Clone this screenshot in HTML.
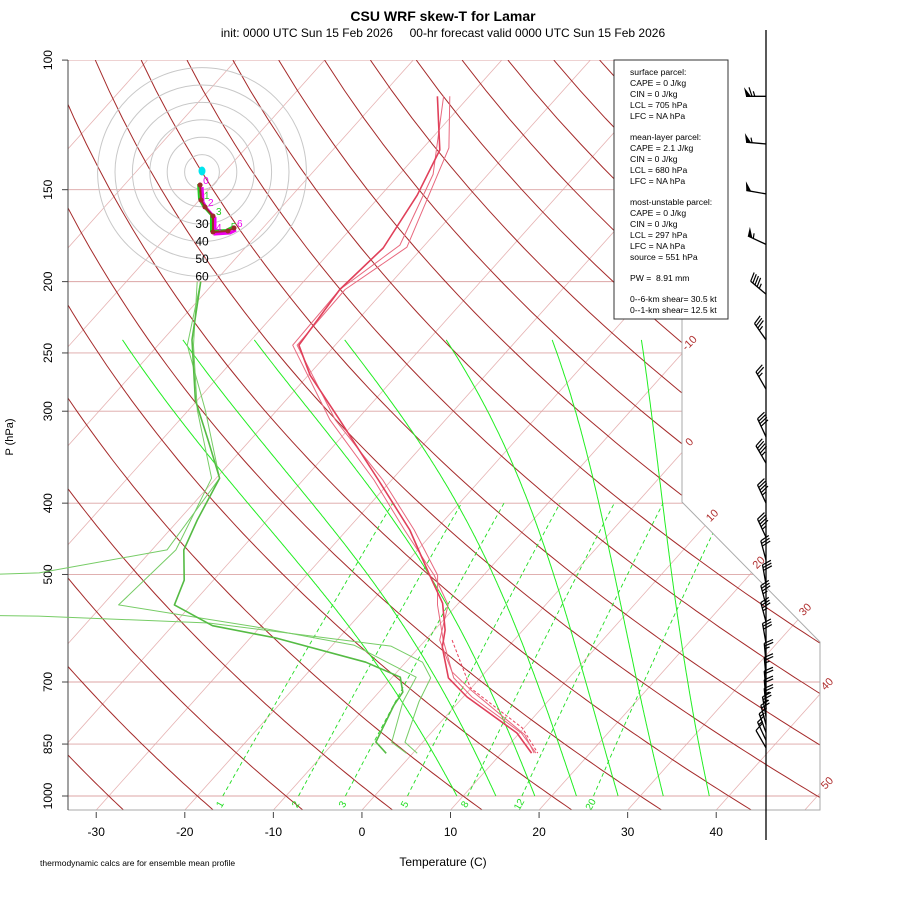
<!DOCTYPE html>
<html><head><meta charset="utf-8"><style>
body{margin:0;background:#fff;}
svg{display:block;font-family:"Liberation Sans",sans-serif;}
</style></head><body>
<svg id="chart" width="900" height="900" viewBox="0 0 900 900" xmlns="http://www.w3.org/2000/svg">
<defs><clipPath id="plotclip"><polygon points="68,60 682,60 682,502 820,642 820,810 68,810"/></clipPath></defs>
<rect x="0" y="0" width="900" height="900" fill="#fff"/>
<text x="443" y="21" font-size="14" font-weight="bold" text-anchor="middle">CSU WRF skew-T for Lamar</text>
<text x="443" y="37" font-size="12" text-anchor="middle" xml:space="preserve">init: 0000 UTC Sun 15 Feb 2026     00-hr forecast valid 0000 UTC Sun 15 Feb 2026</text>
<g id="bg" clip-path="url(#plotclip)"></g>
<g id="fg"></g>
<text transform="translate(13,437) rotate(-90)" font-size="11" text-anchor="middle">P (hPa)</text>
<text x="443" y="866" font-size="12" text-anchor="middle">Temperature (C)</text>
<text x="40" y="866" font-size="8.5">thermodynamic calcs are for ensemble mean profile</text>
<g>
<rect x="614" y="60" width="114" height="259" fill="#fff" stroke="#333" stroke-width="1"/>
<g font-size="8.6" fill="#000">
<text x="630" y="75">surface parcel:</text>
<text x="630" y="86">CAPE = 0 J/kg</text>
<text x="630" y="97">CIN = 0 J/kg</text>
<text x="630" y="108">LCL = 705 hPa</text>
<text x="630" y="119">LFC = NA hPa</text>
<text x="630" y="140">mean-layer parcel:</text>
<text x="630" y="151">CAPE = 2.1 J/kg</text>
<text x="630" y="162">CIN = 0 J/kg</text>
<text x="630" y="173">LCL = 680 hPa</text>
<text x="630" y="184">LFC = NA hPa</text>
<text x="630" y="205">most-unstable parcel:</text>
<text x="630" y="216">CAPE = 0 J/kg</text>
<text x="630" y="227">CIN = 0 J/kg</text>
<text x="630" y="238">LCL = 297 hPa</text>
<text x="630" y="249">LFC = NA hPa</text>
<text x="630" y="260">source = 551 hPa</text>
<text x="630" y="281" xml:space="preserve">PW =  8.91 mm</text>
<text x="630" y="302">0--6-km shear= 30.5 kt</text>
<text x="630" y="313">0--1-km shear= 12.5 kt</text>
</g></g>
</svg>
<script>
// ---- data ----
const tempP = [112,132.5,152.6,180,205,244,268,308.5,372,435,501,547,595,627.5,691,733.6,821,874.5];
const tempT = [-63.6,-57.9,-55.9,-54.4,-55.1,-54.1,-49.8,-41.9,-31.5,-22.9,-16.1,-11.8,-8.8,-7.4,-3.6,0.45,9.7,13.4];
const tempM1P = [112,143,178.4,205,244,308.5,372,435,501,550,614,678,717,826,874.5];
const tempM1T = [-62.9,-56.2,-52.8,-55.1,-54.8,-43.0,-32.0,-23.5,-15.6,-11.0,-8.4,-3.8,0.1,10.8,13.7];
const tempM2P = [112,131.6,179.6,205,244,308.5,372,435,501,550,614,691,733.6,821,874.5];
const tempM2T = [-62.2,-57.1,-51.8,-54.5,-54.3,-42.4,-31.0,-22.4,-15.2,-12.2,-8.0,-3.0,1.0,10.2,13.9];
const parcelP = [614,713,808,874.5];
const parcelT = [-7.0,-0.1,9.8,14.1];
const dewP = [200,240,290,328,370,421.6,463,509,550,587,610,658,689.5,722.5,752,844.5,875];
const dewT = [-71.6,-66.7,-60.2,-54.8,-49.6,-47.9,-46.4,-43.3,-41.9,-35.5,-27.1,-14.5,-9.1,-7.3,-7.0,-5.3,-3.0];
const dewM1P = [200,244,299,370,463,497.6,520,560,569.5,582,625.6,658,691,745,845,875];
const dewM1T = [-71.6,-66.7,-58.1,-49.6,-48.3,-60.4,-110,-110,-56.1,-36.2,-13.3,-8.1,-5.6,-4.5,-2.0,0.5];
const dewM2P = [200,244,299,370,463,550,589,624,660,689.5,745,845,875];
const dewM2T = [-72.0,-66.0,-59.0,-50.5,-47.3,-48.2,-30.6,-17.5,-11.8,-7.3,-6.3,-3.5,-0.7];
const windP = [112,130,152,178,208,240,280,325,353,400,445,478,516,550,580,620,660,690,720,740,760,780,800,820,840,860];
const windDir = [270,275,280,295,310,325,330,335,330,335,335,345,350,345,345,350,355,355,355,355,355,350,345,340,335,330];
const windSpd = [65,55,50,55,45,35,25,40,45,45,45,30,30,35,35,30,25,25,20,20,25,25,20,15,15,10];
const hodoU = [-1.1,-0.6,1.7,6.3,6.3,14.9,18.4];
const hodoV = [-7.5,-16.1,-20.1,-25.3,-34.5,-33.9,-32.2];
const pressureTicks = [100,150,200,250,300,400,500,700,850,1000];
const tempTicks = [-30,-20,-10,0,10,20,30,40];
const mixingRatios = [1,2,3,5,8,12,20];
const moistStartT = [9.3,13.7,18.1,22.8,27.5,32.6,37.8];
const isoLabels = [-10,0,10,20,30,40,50];

// ---- axes ----
const NS='http://www.w3.org/2000/svg';
function yP(p){return 796-319.6*Math.log(1000/p);}
function xT(T,p){return 362+8.857*T+0.895*(810-yP(p));}
const bg=document.getElementById('bg'), fg=document.getElementById('fg');
function mk(tag,attrs,parent){const e=document.createElementNS(NS,tag);for(const k in attrs)e.setAttribute(k,attrs[k]);parent.appendChild(e);return e;}
function poly(pts){return pts.map(q=>q[0].toFixed(1)+','+q[1].toFixed(1)).join(' ');}

for(let T=-140;T<=60;T+=10){
  const l=mk('line',{x1:xT(T,1050),y1:yP(1050),x2:xT(T,100),y2:yP(100),stroke:'#e6b3b3','stroke-width':0.8},bg);
  
  
}
pressureTicks.forEach(p=>{
  const l=mk('line',{x1:68,y1:yP(p),x2:820,y2:yP(p),stroke:'#dca4a4','stroke-width':0.9},bg);
  
  
});
for(let th=-40;th<=220;th+=10){
  const pts=[];
  for(let p=1050;p>=100;p-=10){const T=(th+273.15)*Math.pow(p/1000,0.286)-273.15;pts.push([xT(T,p),yP(p)]);}
  const l=mk('polyline',{points:poly(pts),fill:'none',stroke:'#a52a2a','stroke-width':1},bg);
  
  
}
function tdFromW(w,p){const e=w*p/(622+w);const a=Math.log(e/6.112);return 243.5*a/(17.67-a);}
mixingRatios.forEach(w=>{
  const pts=[];
  for(let p=1000;p>=400;p-=20)pts.push([xT(tdFromW(w,p),p),yP(p)]);
  const l=mk('polyline',{points:poly(pts),fill:'none',stroke:'#22dd22','stroke-width':0.9,'stroke-dasharray':'4,3'},bg);
  
  
  const x=xT(tdFromW(w,1000),1000), y=yP(1000)+10;
  const t=mk('text',{x:x,y:y,'font-size':10,fill:'#22dd22','text-anchor':'middle',transform:`rotate(-60 ${x} ${y})`},fg);
  t.textContent=w;
  
  
});
function es(Tc){return 6.112*Math.exp(17.67*Tc/(Tc+243.5));}
moistStartT.forEach(T0=>{
  let T=T0+273.15;const pts=[[xT(T0,1000),yP(1000)]];
  for(let p=1000;p>240;p-=2){
    const e=es(T-273.15), rs=0.622*e/(p-e);
    const dT=(287*T+2.5e6*rs)/(p*(1004+2.5e6*2.5e6*rs*0.622/(287*T*T)));
    T-=dT*2;
    const pn=p-2, Td=(T0+273.15)*Math.pow(pn/1000,0.286);
    const Tb=Td+0.8*(T-Td);
    pts.push([xT(Tb-273.15,pn),yP(pn)]);
  }
  const l=mk('polyline',{points:poly(pts),fill:'none',stroke:'#22ee22','stroke-width':1},bg);
  
  
});
const bnd=mk('polyline',{points:'682,60 682,502 820,642 820,810 68,810',fill:'none',stroke:'#aaa','stroke-width':1},fg);


const lax=mk('line',{x1:68,y1:60,x2:68,y2:810,stroke:'#444','stroke-width':1},fg);


function bx(y){if(y<=502)return 682;if(y<=642)return 682+(y-502)*138/140;return 820;}
isoLabels.forEach(T=>{
  let yy=60;
  for(let y=60;y<=810;y+=0.5){const x=362+8.857*T+0.895*(810-y);if(x<=bx(y)){yy=y;break;}}
  const x=362+8.857*T+0.895*(810-yy)+10, y=yy-8;
  const t=mk('text',{x:x,y:y,'font-size':11,fill:'#b03030','text-anchor':'middle',transform:`rotate(-45 ${x} ${y})`},fg);
  t.textContent=T;
  
  
});
pressureTicks.forEach(p=>{
  const y=yP(p);
  const tk=mk('line',{x1:62,y1:y,x2:68,y2:y,stroke:'#444'},fg);
  
  
  const t=mk('text',{x:52,y:y,'font-size':12,'text-anchor':'middle',transform:`rotate(-90 52 ${y})`},fg);
  t.textContent=p;
  
  
});
tempTicks.forEach(T=>{
  const x=xT(T,1045);
  const tk=mk('line',{x1:x,y1:812,x2:x,y2:818,stroke:'#444'},fg);
  
  
  const t=mk('text',{x:x,y:836,'font-size':12,'text-anchor':'middle'},fg);
  t.textContent=T;
  
  
});
const hc=[202,172], hs=1.74;
for(let r=10;r<=60;r+=10){
  const c=mk('circle',{cx:hc[0],cy:hc[1],r:r*hs,fill:'none',stroke:'#c8c8c8','stroke-width':1},fg);
  
  
  if(r>=30){const t=mk('text',{x:hc[0],y:hc[1]+r*hs+4,'font-size':12,'text-anchor':'middle'},fg);t.textContent=r;
    
    }
}
const cy=mk('ellipse',{cx:hc[0],cy:hc[1]-1,rx:3.5,ry:4.5,fill:'#00e5ee'},fg);


const hpts=hodoU.map((u,i)=>[hc[0]+u*hs,hc[1]-hodoV[i]*hs]);
const hm=mk('polyline',{points:poly(hpts.map(q=>[q[0]+2,q[1]+2])),fill:'none',stroke:'#ee00ee','stroke-width':3},fg);


const hg=mk('polyline',{points:poly(hpts.map(q=>[q[0]-2,q[1]-1])),fill:'none',stroke:'#22cc22','stroke-width':2},fg);


const hl=mk('polyline',{points:poly(hpts),fill:'none',stroke:'#9b2a2a','stroke-width':2},fg);


hpts.forEach((q,i)=>{
  const d=mk('circle',{cx:q[0],cy:q[1],r:2.5,fill:'#9b2a2a'},fg);
  
  
  const t=mk('text',{x:q[0]+3,y:q[1]-1,'font-size':10,fill:i%2?'#22cc22':'#ee00ee'},fg);
  t.textContent=[0,1,2,3,4,5,6][i];
  
  
});
function prof(P,T,color,w,name,dash){
  const pts=P.map((p,i)=>[xT(T[i],p),yP(p)]);
  const a={points:poly(pts),fill:'none',stroke:color,'stroke-width':w,'stroke-linejoin':'round'};
  if(dash)a['stroke-dasharray']=dash;
  const l=mk('polyline',a,fg);
  
  
}
prof(dewM1P,dewM1T,'#77cc66',1,'dewpoint-member-line');
prof(dewM2P,dewM2T,'#77cc66',1,'dewpoint-member-line');
prof(dewP,dewT,'#55bb44',1.6,'dewpoint-line');
prof(tempM1P,tempM1T,'#e8687e',1,'temperature-member-line');
prof(tempM2P,tempM2T,'#e8687e',1,'temperature-member-line');
prof(parcelP,parcelT,'#e8405a',1,'temperature-dashed-line','3,2');
prof(tempP,tempT,'#e0405a',1.6,'temperature-line');
const sx0=766;
const staff=mk('line',{x1:sx0,y1:30,x2:sx0,y2:840,stroke:'#000','stroke-width':1.3},fg);


windP.forEach((p,i)=>{
  const y=yP(p), a=windDir[i]*Math.PI/180;
  const dx=Math.sin(a), dy=-Math.cos(a), px=-dy, py=dx, L=20;
  const g=mk('g',{},fg);
  
  
  mk('line',{x1:sx0,y1:y,x2:sx0+dx*L,y2:y+dy*L,stroke:'#000','stroke-width':1.3},g);
  let s=Math.round(windSpd[i]/5)*5, pos=L;
  while(s>=50){const b=[sx0+dx*pos,y+dy*pos],c=[sx0+dx*(pos-5),y+dy*(pos-5)];
    mk('polygon',{points:poly([b,[b[0]+px*9+dx*2,b[1]+py*9+dy*2],c]),fill:'#000'},g);pos-=6;s-=50;}
  while(s>=10){const b=[sx0+dx*pos,y+dy*pos];
    mk('line',{x1:b[0],y1:b[1],x2:b[0]+px*9+dx*3,y2:b[1]+py*9+dy*3,stroke:'#000','stroke-width':1.2},g);pos-=2.8;s-=10;}
  if(s>=5){const b=[sx0+dx*pos,y+dy*pos];
    mk('line',{x1:b[0],y1:b[1],x2:b[0]+px*5+dx*1.5,y2:b[1]+py*5+dy*1.5,stroke:'#000','stroke-width':1.2},g);}
});
</script>
</body></html>
